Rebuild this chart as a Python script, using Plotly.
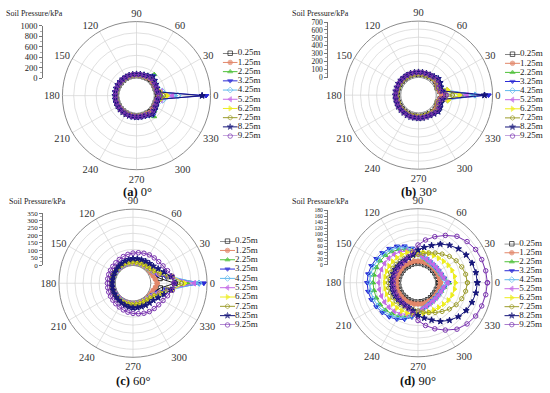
import plotly.graph_objects as go

W, H = 550, 393

depths = ["0.25m", "1.25m", "2.25m", "3.25m", "4.25m", "5.25m", "6.25m", "7.25m", "8.25m", "9.25m"]
theta_deg = [0, 10, 20, 30, 40, 50, 60, 70, 80, 90, 100, 110, 120, 130, 140, 150, 160, 170,
             180, 190, 200, 210, 220, 230, 240, 250, 260, 270, 280, 290, 300, 310, 320, 330, 340, 350]
angle_ticks = [0, 30, 60, 90, 120, 150, 180, 210, 240, 270, 300, 330]
angle_labels = ["0", "30", "60", "90", "120", "150", "180", "210", "240", "270", "300", "330"]

series_colors = ["#1c1c1c", "#e2876a", "#4fc13a", "#2b2bd6", "#5fb8ec",
                 "#c46be6", "#eded1e", "#9c9c2c", "#16167a", "#7a34b0"]
series_symbols = ["square-open", "circle", "triangle-up", "triangle-down", "diamond-open",
                  "triangle-left", "triangle-right", "hexagon-open", "star", "circle-open"]

# ---- (a) 0 deg, kPa ----
a_025 = [70, 48, 40, 46, 52, 62, 50, 44, 45, 43, 44, 46, 45, 44, 43, 45, 44, 46, 45, 44, 43, 45, 46, 44, 45, 43, 44, 45, 46, 44, 48, 60, 52, 47, 41, 49]
a_125 = [90, 55, 45, 50, 58, 70, 54, 48, 49, 47, 48, 50, 49, 48, 47, 49, 48, 50, 49, 48, 47, 49, 50, 48, 49, 47, 48, 49, 50, 48, 53, 68, 57, 51, 46, 56]
a_225 = [120, 70, 60, 72, 100, 175, 90, 58, 56, 54, 55, 57, 56, 55, 54, 56, 55, 57, 56, 55, 54, 56, 57, 55, 56, 54, 55, 56, 57, 55, 88, 170, 98, 70, 62, 72]
a_325 = [920, 62, 70, 82, 105, 140, 95, 70, 66, 65, 64, 66, 65, 64, 63, 65, 64, 66, 65, 64, 63, 65, 66, 64, 65, 63, 64, 65, 66, 68, 92, 138, 102, 80, 68, 64]
a_425 = [420, 150, 80, 75, 90, 110, 80, 62, 58, 57, 58, 59, 58, 57, 56, 58, 57, 59, 58, 57, 56, 58, 59, 57, 58, 56, 57, 58, 59, 60, 78, 108, 88, 74, 78, 155]
a_525 = [320, 130, 75, 70, 85, 100, 75, 60, 56, 55, 56, 57, 56, 55, 54, 56, 55, 57, 56, 55, 54, 56, 57, 55, 56, 54, 55, 56, 57, 58, 74, 98, 84, 70, 72, 128]
a_625 = [230, 110, 70, 68, 80, 95, 72, 58, 54, 53, 54, 55, 54, 53, 52, 54, 53, 55, 54, 53, 52, 54, 55, 53, 54, 52, 53, 54, 55, 56, 70, 93, 80, 68, 68, 112]
a_725 = [160, 85, 60, 62, 75, 88, 68, 56, 53, 52, 53, 54, 53, 52, 51, 53, 52, 54, 53, 52, 51, 53, 54, 52, 53, 51, 52, 53, 54, 55, 66, 86, 74, 63, 60, 88]
a_825 = [850, 70, 72, 80, 98, 120, 88, 76, 70, 68, 67, 69, 68, 67, 66, 68, 67, 69, 68, 67, 66, 68, 69, 67, 68, 66, 67, 68, 69, 71, 86, 118, 96, 80, 70, 72]
a_925 = [100, 60, 55, 62, 75, 85, 70, 64, 61, 60, 61, 62, 61, 60, 59, 61, 60, 62, 61, 60, 59, 61, 62, 60, 61, 59, 60, 61, 62, 63, 68, 84, 74, 62, 56, 62]

# ---- (b) 30 deg ----
b_025 = [90, 50, 30, 38, 52, 50, 46, 45, 44, 45, 44, 46, 45, 44, 45, 46, 44, 45, 46, 45, 44, 46, 45, 44, 45, 46, 44, 45, 46, 45, 47, 50, 52, 40, 32, 52]
b_125 = [70, 45, 32, 44, 58, 55, 52, 50, 49, 50, 49, 51, 50, 49, 50, 51, 49, 50, 51, 50, 49, 51, 50, 49, 50, 51, 49, 50, 51, 50, 52, 55, 57, 42, 33, 48]
b_225 = [310, 110, 60, 70, 85, 70, 58, 55, 54, 55, 54, 56, 55, 54, 55, 56, 54, 55, 56, 55, 54, 56, 55, 54, 55, 56, 54, 55, 56, 55, 58, 70, 84, 72, 62, 115]
b_325 = [650, 90, 70, 85, 95, 78, 66, 62, 61, 62, 61, 63, 62, 61, 62, 63, 61, 62, 63, 62, 61, 63, 62, 61, 62, 63, 61, 62, 63, 62, 66, 78, 96, 86, 72, 92]
b_425 = [480, 140, 65, 70, 80, 66, 56, 53, 52, 53, 52, 54, 53, 52, 53, 54, 52, 53, 54, 53, 52, 54, 53, 52, 53, 54, 52, 53, 54, 53, 56, 66, 80, 72, 66, 145]
b_525 = [380, 130, 62, 68, 78, 64, 55, 52, 51, 52, 51, 53, 52, 51, 52, 53, 51, 52, 53, 52, 51, 53, 52, 51, 52, 53, 51, 52, 53, 52, 55, 64, 78, 70, 64, 132]
b_625 = [290, 150, 55, 60, 72, 60, 52, 49, 48, 49, 48, 50, 49, 48, 49, 50, 48, 49, 50, 49, 48, 50, 49, 48, 49, 50, 48, 49, 50, 49, 52, 60, 72, 62, 56, 155]
b_725 = [200, 60, 20, 45, 68, 58, 50, 47, 46, 47, 46, 48, 47, 46, 47, 48, 46, 47, 48, 47, 46, 48, 47, 46, 47, 48, 46, 47, 48, 47, 50, 58, 68, 46, 22, 62]
b_825 = [600, 80, 75, 90, 100, 82, 70, 66, 65, 66, 65, 67, 66, 65, 66, 67, 65, 66, 67, 66, 65, 67, 66, 65, 66, 67, 65, 66, 67, 66, 70, 82, 100, 90, 76, 82]
b_925 = [120, 60, 45, 60, 78, 70, 64, 62, 61, 62, 61, 63, 62, 61, 62, 63, 61, 62, 63, 62, 61, 63, 62, 61, 62, 63, 61, 62, 63, 62, 64, 70, 78, 60, 46, 62]

# ---- (c) 60 deg ----
c_025 = [150, 60, 35, 28, 24, 22, 21, 20, 20, 21, 20, 21, 20, 20, 21, 20, 21, 20, 20, 21, 20, 21, 20, 20, 21, 20, 21, 20, 20, 21, 21, 22, 24, 28, 36, 62]
c_125 = [40, 30, 22, 18, 16, 15, 14, 14, 13, 14, 13, 14, 13, 14, 13, 14, 13, 14, 13, 14, 13, 14, 13, 14, 13, 14, 13, 14, 13, 14, 14, 15, 16, 18, 22, 31]
c_225 = [230, 120, 60, 35, 25, 20, 17, 16, 15, 16, 15, 16, 15, 16, 15, 16, 15, 16, 15, 16, 15, 16, 15, 16, 15, 16, 15, 16, 15, 16, 17, 20, 25, 36, 62, 118]
c_325 = [330, 100, 50, 32, 24, 20, 18, 17, 16, 17, 16, 17, 16, 17, 16, 17, 16, 17, 16, 17, 16, 17, 16, 17, 16, 17, 16, 17, 16, 17, 18, 20, 24, 33, 52, 98]
c_425 = [300, 130, 60, 35, 25, 21, 19, 18, 17, 18, 17, 18, 17, 18, 17, 18, 17, 18, 17, 18, 17, 18, 17, 18, 17, 18, 17, 18, 17, 18, 19, 21, 25, 36, 62, 128]
c_525 = [270, 120, 55, 33, 24, 20, 18, 17, 16, 17, 16, 17, 16, 17, 16, 17, 16, 17, 16, 17, 16, 17, 16, 17, 16, 17, 16, 17, 16, 17, 18, 20, 24, 34, 57, 118]
c_625 = [210, 140, 75, 42, 30, 25, 22, 21, 20, 21, 20, 21, 20, 21, 20, 21, 20, 21, 20, 21, 20, 21, 20, 21, 20, 21, 20, 21, 20, 21, 22, 25, 30, 44, 77, 138]
c_725 = [190, 110, 65, 40, 30, 26, 24, 23, 22, 23, 22, 23, 22, 23, 22, 23, 22, 23, 22, 23, 22, 23, 22, 23, 22, 23, 22, 23, 22, 23, 24, 26, 30, 42, 66, 108]
c_825 = [150, 130, 95, 70, 55, 50, 47, 45, 44, 43, 40, 36, 32, 28, 25, 22, 20, 19, 19, 19, 20, 22, 25, 28, 32, 36, 40, 43, 44, 45, 47, 50, 55, 70, 95, 130]
c_925 = [145, 138, 118, 105, 98, 95, 93, 88, 82, 77, 72, 66, 60, 56, 53, 51, 50, 49, 49, 49, 50, 51, 53, 56, 60, 66, 72, 77, 82, 88, 93, 95, 98, 105, 118, 138]

# ---- (d) 90 deg ----
d_025 = [8, 7, 6, 6, 5, 6, 6, 5, 6, 6, 6, 6, 5, 6, 6, 6, 6, 6, 6, 6, 6, 6, 6, 5, 6, 6, 6, 6, 5, 6, 6, 6, 5, 6, 6, 7]
d_125 = [15, 13, 12, 12, 11, 12, 12, 11, 12, 12, 13, 12, 12, 13, 12, 12, 12, 13, 12, 12, 13, 12, 12, 12, 13, 12, 12, 11, 12, 12, 11, 12, 12, 12, 12, 13]
d_225 = [42, 28, 22, 19, 18, 18, 19, 22, 27, 35, 46, 57, 66, 73, 79, 83, 85, 86, 87, 86, 85, 83, 79, 73, 66, 57, 46, 35, 27, 22, 19, 18, 18, 19, 22, 28]
d_325 = [40, 28, 22, 19, 18, 18, 20, 24, 30, 40, 55, 68, 78, 86, 92, 97, 102, 105, 106, 105, 102, 97, 92, 86, 78, 68, 55, 40, 30, 24, 20, 18, 18, 19, 22, 28]
d_425 = [36, 26, 21, 19, 18, 18, 19, 23, 28, 37, 50, 62, 72, 80, 86, 91, 95, 97, 98, 97, 95, 91, 86, 80, 72, 62, 50, 37, 28, 23, 19, 18, 18, 19, 21, 26]
d_525 = [38, 27, 22, 20, 19, 19, 20, 23, 28, 35, 43, 51, 57, 62, 65, 67, 68, 69, 69, 69, 68, 67, 65, 62, 57, 51, 43, 35, 28, 23, 20, 19, 19, 20, 22, 27]
d_625 = [63, 62, 59, 55, 50, 46, 44, 43, 43, 44, 45, 46, 47, 48, 49, 50, 50, 50, 50, 50, 50, 50, 49, 48, 47, 46, 45, 44, 43, 43, 44, 46, 50, 55, 59, 62]
d_725 = [101, 98, 92, 84, 74, 63, 53, 45, 38, 33, 30, 31, 32, 33, 35, 36, 37, 38, 38, 38, 37, 36, 35, 33, 32, 31, 30, 33, 38, 45, 53, 63, 74, 84, 92, 98]
d_825 = [133, 131, 127, 121, 112, 100, 86, 70, 58, 48, 34, 28, 26, 26, 26, 27, 27, 27, 27, 27, 27, 27, 26, 26, 26, 28, 34, 48, 58, 70, 86, 100, 112, 121, 127, 131]
d_925 = [165, 163, 160, 156, 148, 137, 118, 100, 82, 64, 42, 32, 26, 23, 22, 22, 22, 22, 22, 22, 22, 22, 22, 23, 26, 32, 42, 64, 82, 100, 118, 137, 148, 156, 160, 163]

panel_a = [a_025, a_125, a_225, a_325, a_425, a_525, a_625, a_725, a_825, a_925]
panel_b = [b_025, b_125, b_225, b_325, b_425, b_525, b_625, b_725, b_825, b_925]
panel_c = [c_025, c_125, c_225, c_325, c_425, c_525, c_625, c_725, c_825, c_925]
panel_d = [d_025, d_125, d_225, d_325, d_425, d_525, d_625, d_725, d_825, d_925]
panels = [panel_a, panel_b, panel_c, panel_d]

for p in panels:
    for s in p:
        assert len(s) == len(theta_deg), len(s)

captions = ["<b>(a)</b> 0°", "<b>(b)</b> 30°", "<b>(c)</b> 60°", "<b>(d)</b> 90°"]
radial_max = [1000, 700, 350, 180]
radial_step = [200, 100, 50, 20]
radial_minor = [100, 50, 25, 10]
bar_title = "Soil Pressure/kPa"

# ---- layout geometry (pixels) ----
R = 76
centers = [(136.5, 93), (418.5, 92.5), (133, 285.5), (418, 285)]
bar_x = [43, 328, 43, 327.7]
bar_top = [21.5, 17.5, 213.5, 210.5]
bar_bot = [75, 74.5, 267, 266.5]
bar_font = [8.5, 7.5, 7, 5.6]
bar_title_xy = [(35, 9), (320, 9), (37.5, 202), (320, 202)]
leg_x = [222.7, 505, 220, 504.3]
leg_y = [(49.5, 134.5), (50.5, 134.5), (242.3, 328.3), (245, 328)]
caption_xy = [(137, 192), (419, 192), (133, 386), (418, 385.5)]

SERIF = "Liberation Serif"
GRID = "#d2d2d2"

fig = go.Figure()
layout = dict(width=W, height=H, margin=dict(l=0, r=0, t=0, b=0),
              paper_bgcolor="white", plot_bgcolor="white", showlegend=False,
              font=dict(family=SERIF, color="#222"))
annotations = []

for i in range(4):
    cx, cy = centers[i]
    pkey = "polar" if i == 0 else f"polar{i + 1}"
    layout[pkey] = dict(
        domain=dict(x=[(cx - R) / W, (cx + R) / W], y=[1 - (cy + R) / H, 1 - (cy - R) / H]),
        hole=0.24, bgcolor="white",
        radialaxis=dict(range=[0, radial_max[i]], dtick=radial_step[i], tick0=0,
                        showticklabels=False, ticks="", showline=False,
                        gridcolor=GRID, gridwidth=0.7),
        angularaxis=dict(rotation=0, direction="counterclockwise", tickmode="array",
                         tickvals=angle_ticks, ticktext=angle_labels, ticks="",
                         showline=True, linecolor="#8c8c8c", linewidth=1,
                         gridcolor=GRID, gridwidth=0.7,
                         tickfont=dict(family=SERIF, size=10.5, color="#333")))
    for k, vals in enumerate(panels[i]):
        fig.add_trace(go.Scatterpolar(
            r=vals + vals[:1], theta=theta_deg + theta_deg[:1], subplot=pkey,
            mode="lines+markers", name=depths[k], showlegend=False,
            line=dict(color=series_colors[k], width=1),
            marker=dict(symbol=series_symbols[k], size=4.5, color=series_colors[k],
                        line=dict(color=series_colors[k], width=1))))

    # scale bar (radial scale drawn as a standalone axis)
    n = i + 1
    xa, ya = ("xaxis", "yaxis") if n == 1 else (f"xaxis{n}", f"yaxis{n}")
    xr, yr = ("x", "y") if n == 1 else (f"x{n}", f"y{n}")
    layout[xa] = dict(domain=[bar_x[i] / W, (bar_x[i] + 2) / W], visible=False,
                      anchor=yr, range=[0, 1])
    layout[ya] = dict(domain=[1 - bar_bot[i] / H, 1 - bar_top[i] / H], anchor=xr,
                      range=[0, radial_max[i]], dtick=radial_step[i], tick0=0,
                      showline=True, linecolor="#555", linewidth=0.8,
                      ticks="outside", ticklen=3, tickcolor="#555", tickwidth=0.8,
                      minor=dict(dtick=radial_minor[i], ticks="outside", ticklen=2,
                                 tickcolor="#777", tickwidth=0.6),
                      showgrid=False, zeroline=False,
                      tickfont=dict(family=SERIF, size=bar_font[i], color="#222"))
    fig.add_trace(go.Scatter(x=[], y=[], xaxis=xr, yaxis=yr, showlegend=False))
    tx, ty = bar_title_xy[i]
    annotations.append(dict(text=bar_title, x=tx / W, y=1 - ty / H, xref="paper", yref="paper",
                            showarrow=False, xanchor="center", yanchor="middle",
                            font=dict(family=SERIF, size=8, color="#222")))

    # legend (drawn manually for compact spacing)
    m = i + 5
    lxa, lya, lxr, lyr = f"xaxis{m}", f"yaxis{m}", f"x{m}", f"y{m}"
    y0, y9 = leg_y[i]
    layout[lxa] = dict(domain=[leg_x[i] / W, (leg_x[i] + 15) / W], visible=False,
                       anchor=lyr, range=[0, 1])
    layout[lya] = dict(domain=[1 - y9 / H, 1 - y0 / H], visible=False, anchor=lxr,
                       range=[9, 0])
    for k in range(10):
        fig.add_trace(go.Scatter(
            x=[0, 0.5, 1], y=[k, k, k], xaxis=lxr, yaxis=lyr, showlegend=False,
            mode="lines+markers+text", text=["", "", depths[k]], textposition="middle right",
            textfont=dict(family=SERIF, size=9, color="#222"), cliponaxis=False,
            line=dict(color=series_colors[k], width=1), hoverinfo="skip",
            marker=dict(symbol=series_symbols[k], size=[0, 4.5, 0], color=series_colors[k],
                        line=dict(color=series_colors[k], width=1))))

    capx, capy = caption_xy[i]
    annotations.append(dict(text=captions[i], x=capx / W, y=1 - capy / H, xref="paper",
                            yref="paper", showarrow=False, xanchor="center", yanchor="middle",
                            font=dict(family=SERIF, size=12.5, color="#111")))

layout["annotations"] = annotations
fig.update_layout(**layout)
fig.write_html("out.html", config={"displayModeBar": False, "staticPlot": True},
               post_script="document.body.style.margin='0px';")
